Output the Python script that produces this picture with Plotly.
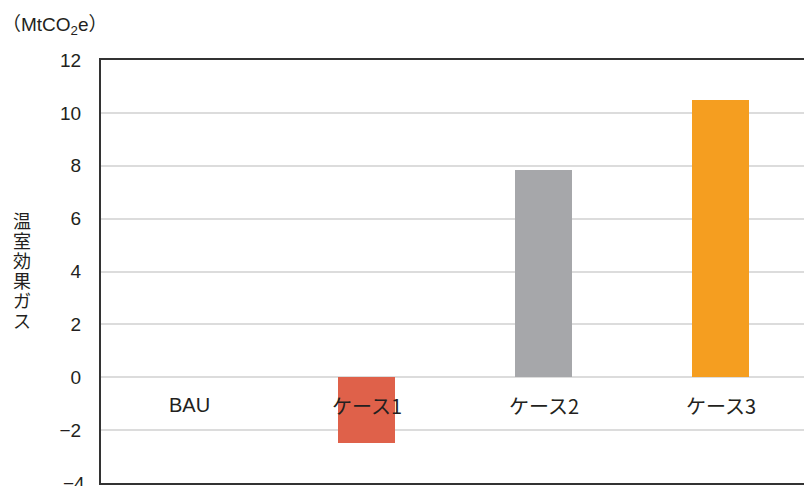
import plotly.graph_objects as go

categories = ["BAU", "ケース1", "ケース2", "ケース3"]
values = [0, -2.5, 7.85, 10.5]
colors = ["rgba(0,0,0,0)", "#DF614A", "#A6A7AA", "#F59E20"]
y_ticks = [-2, 0, 2, 4, 6, 8, 10, 12]
y_bottom_tick = -4
label_y = -1.06
y_title = "温室効果ガス"

NUMFONT = "Liberation Sans, Arial, sans-serif"
FONT = "Liberation Sans, Arial, Noto Sans CJK JP, sans-serif"
JFONT = "Noto Sans CJK JP, Liberation Sans, sans-serif"
TXT = "#231f20"

fig = go.Figure()
fig.add_trace(go.Bar(
    x=categories, y=values, marker=dict(color=colors, line=dict(width=0)),
    width=0.32, showlegend=False, hoverinfo="skip",
))

for c in categories:
    fam = FONT if c == "BAU" else JFONT
    fig.add_annotation(x=c, y=label_y, xref="x", yref="y", text=c, showarrow=False,
                       font=dict(family=fam, size=20, color=TXT))

# bottom tick label (partly cut at the picture's lower edge)
fig.add_annotation(x=0, y=y_bottom_tick, xref="paper", yref="y", xanchor="right",
                   yanchor="middle", xshift=-14, text="\u2212" + str(abs(y_bottom_tick)),
                   showarrow=False, font=dict(family=NUMFONT, size=19, color=TXT))

fig.add_annotation(x=0, y=1, xref="paper", yref="paper", xanchor="left", yanchor="bottom",
                   xshift=-101, yshift=20,
                   text="（MtCO<sub>2</sub>e）", showarrow=False,
                   font=dict(family=FONT, size=19, color=TXT))

n = len(y_title)
for i, ch in enumerate(y_title):
    fig.add_annotation(x=0, y=0.5, xref="paper", yref="paper", xanchor="center",
                       yanchor="middle", xshift=-79, yshift=(n - 1) / 2 * 20 - i * 20 + 2,
                       text=ch, showarrow=False,
                       font=dict(family=JFONT, size=18, color=TXT))

fig.update_layout(
    width=804, height=486,
    margin=dict(l=101, r=0, t=60, b=3),
    paper_bgcolor="white", plot_bgcolor="white",
    bargap=0,
    xaxis=dict(type="category", range=[-0.5, 3.47], showticklabels=False,
               showline=True, mirror=True, linecolor="#333333", linewidth=2,
               showgrid=False, ticks=""),
    yaxis=dict(range=[-4, 12], tickvals=y_ticks, showline=True, linecolor="#333333",
               linewidth=2, showgrid=True, gridcolor="#dcdcdc", gridwidth=1.5,
               zeroline=False, ticks="", ticklabelstandoff=14,
               tickfont=dict(family=NUMFONT, size=19, color=TXT)),
)

fig.write_html("out.html")
